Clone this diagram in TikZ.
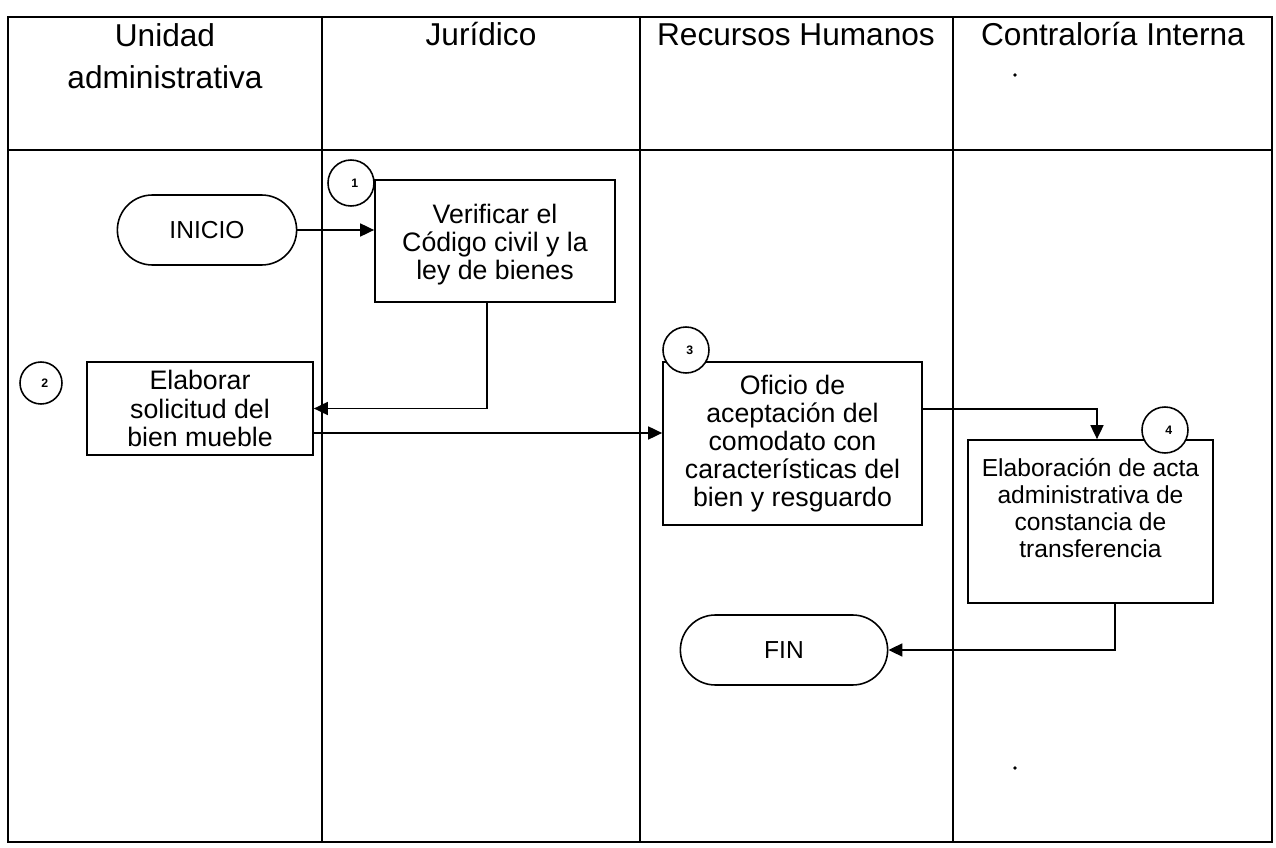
\documentclass[tikz,border=0pt]{standalone}
\usepackage{fontspec}
\setmainfont{Liberation Sans}
\usetikzlibrary{arrows.meta,positioning,shapes.misc,calc}

\begin{document}
\begin{tikzpicture}[
  x=0.02cm, y=-0.02cm,
  head/.style={font=\fontsize{18}{24}\selectfont, align=center, anchor=base, inner sep=0pt},
  proc/.style={draw, line width=1pt, align=center, font=\fontsize{15.2}{16}\selectfont, inner sep=2pt},
  term/.style={draw, rounded rectangle, line width=0.9pt, minimum height=1.4cm, font=\fontsize{14}{16}\selectfont},
  conn/.style={draw, circle, fill=white, line width=0.9pt, minimum size=0.92cm, inner sep=0pt, font=\fontsize{7}{8}\selectfont\bfseries},
  arr/.style={-{Triangle[length=0.28cm, width=0.26cm]}, line width=1pt}
]
\useasboundingbox (0,0) rectangle (1276,848);

% swimlanes
\draw[line width=1.1pt] (8,17) rectangle (1272,842);
\draw[line width=1.2pt] (8,150) -- (1272,150);
\foreach \x in {322,640,953}
  \draw[line width=0.8pt] (\x,17) -- (\x,842);

% lane titles
\node[head, anchor=north] (h1) at (165,23) {Unidad\\administrativa};
\node[head] (h2) at (481,46) {Jur\'idico};
\node[head] (h3) at (796,46) {Recursos Humanos};
\node[head] (h4) at (1113,46) {Contralor\'ia Interna};
\fill (1015,75) circle (1.1pt);
\fill (1015,768) circle (1.1pt);

% process
\node[term, minimum width=3.82cm] (inicio) at (207,230) {INICIO};
\node[proc, minimum width=4.8cm, minimum height=2.44cm] (verif) at (495,241) {\rule{0pt}{1.0em}Verificar el\\C\'odigo civil y la\\ley de bienes};
\node[proc, minimum width=4.52cm, minimum height=1.86cm] (elab) at (200,408.5) {Elaborar\\solicitud del\\bien mueble};
\node[proc, minimum width=5.18cm, minimum height=3.26cm] (oficio) at (792.5,443.5) {Oficio de\\aceptaci\'on del\\comodato con\\caracter\'isticas del\\bien y resguardo};
\node[proc, minimum width=4.9cm, minimum height=3.26cm, font=\fontsize{14}{15.4}\selectfont] (acta) at (1090.5,521.5) {Elaboraci\'on de acta\\administrativa de\\constancia de\\transferencia\\ \mbox{}};
\node[term, minimum width=4.38cm] (fin) at (784,650) {FIN};

% step numbers
\node[conn] (c1) at (351,183) {\hspace{0.6em}1};
\node[conn, minimum size=0.84cm] (c2) at (41,383) {\hspace{0.6em}2};
\node[conn] (c3) at (686,350) {\hspace{0.6em}3};
\node[conn] (c4) at (1165,430) {\hspace{0.6em}4};

% flow
\draw[arr] (inicio.east) -- (inicio.east -| verif.west);
\draw[arr] ([xshift=-0.16cm]verif.south) |- (elab.east);
\coordinate (e1) at ([yshift=-0.49cm]elab.east);
\draw[arr] (e1) -- (e1 -| oficio.west);
\coordinate (o1) at ([yshift=0.69cm]oficio.east);
\draw[arr] (o1) -| ([xshift=0.13cm]acta.north);
\draw[arr] ([xshift=0.49cm]acta.south) |- (fin.east);

\end{tikzpicture}
\end{document}
